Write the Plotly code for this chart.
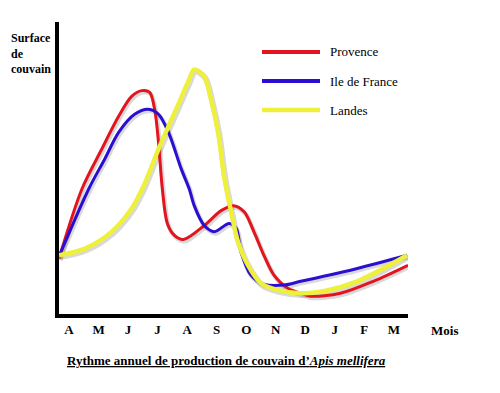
import plotly.graph_objects as go

# Month labels (April -> March)
months = ["A", "M", "J", "J", "A", "S", "O", "N", "D", "J", "F", "M"]
month_pos = list(range(12))

# Provence (red) — x in month units, y in relative brood surface (0-100)
prov_x = [-0.34, 0.44, 1.11, 1.68, 2.12, 2.46, 2.73, 2.90, 3.03, 3.16, 3.33, 3.57, 3.87,
          4.58, 5.15, 5.56, 5.93, 6.26, 6.60, 6.94, 7.41, 7.85, 8.18, 9.19, 10.30, 11.48]
prov_y = [19.0, 42.9, 56.5, 67.7, 74.5, 76.5, 75.9, 70.1, 58.8, 42.9, 31.0, 26.9, 25.5,
          30.3, 35.4, 37.1, 35.0, 28.2, 20.1, 13.3, 8.8, 7.1, 6.1, 7.1, 11.2, 16.7]

# Ile de France (blue)
idf_x = [-0.34, 0.67, 1.21, 1.68, 2.22, 2.69, 3.03, 3.37, 3.80, 4.07, 4.24, 4.58, 4.92,
         5.42, 5.66, 5.82, 6.16, 6.60, 7.27, 7.85, 8.62, 9.76, 11.45]
idf_y = [19.7, 42.9, 53.1, 62.2, 68.4, 70.1, 68.4, 62.2, 49.7, 42.9, 37.1, 30.3, 28.2,
         31.0, 29.3, 21.4, 13.3, 10.2, 9.9, 11.2, 12.9, 15.6, 20.1]

# Landes (yellow)
land_x = [-0.34, 0.54, 1.45, 2.12, 2.53, 3.03, 3.37, 3.70, 4.04, 4.24, 4.58, 4.81, 5.05,
          5.25, 5.49, 5.72, 6.06, 6.50, 7.07, 7.85, 8.62, 9.76, 11.45]
land_y = [20.1, 22.4, 28.2, 36.1, 43.9, 56.5, 64.3, 71.8, 79.6, 83.7, 81.3, 73.5, 62.2,
          47.3, 35.0, 24.8, 16.7, 10.5, 8.2, 7.1, 7.8, 11.2, 20.1]

series = [
    ("Provence", prov_x, prov_y, "#e3141e", 3),
    ("Ile de France", idf_x, idf_y, "#2a0fd2", 3),
    ("Landes", land_x, land_y, "#eef03a", 4.5),
]

# page offset of the figure inside the html page (body margin)
OFF = 8
L, T = 51, 14
R_EDGE, B_EDGE = 400, 306          # figure-relative right / bottom of the plot area
W, H = 500, 393
PW, PH = R_EDGE - L, B_EDGE - T


def px(xp):  # page x -> paper fraction
    return (xp - OFF - L) / PW


def py(yp):  # page y -> paper fraction
    return 1 - (yp - OFF - T) / PH


fig = go.Figure()
# soft shadows
for name, xs, ys, col, w in series:
    fig.add_trace(go.Scatter(x=[x + 0.04 for x in xs], y=[y - 0.6 for y in ys], mode="lines",
                             line=dict(color="rgba(0,0,0,0.15)", width=w + 1.5, shape="spline", smoothing=0.9),
                             hoverinfo="skip", showlegend=False))
for name, xs, ys, col, w in series:
    fig.add_trace(go.Scatter(x=xs, y=ys, mode="lines", name=name,
                             line=dict(color=col, width=w, shape="spline", smoothing=0.9),
                             showlegend=False))

serif = "Liberation Serif"

fig.update_layout(
    width=W, height=H,
    margin=dict(l=L, r=W - R_EDGE, t=T, b=H - B_EDGE),
    paper_bgcolor="white", plot_bgcolor="white",
    xaxis=dict(range=[-0.34, 11.48], tickmode="array", tickvals=month_pos,
               ticktext=["<b>%s</b>" % m for m in months],
               showgrid=False, zeroline=False, showline=True, linecolor="black", linewidth=4,
               ticks="", tickfont=dict(family=serif, size=13, color="black")),
    yaxis=dict(range=[0, 100], showgrid=False, zeroline=False, showline=True,
               linecolor="black", linewidth=4, showticklabels=False, ticks=""),
)

# Axis titles
fig.add_annotation(text="<b>Surface<br>de<br>couvain</b>", xref="paper", yref="paper",
                   x=px(10), y=py(30), xanchor="left", yanchor="top", align="left",
                   borderpad=0, showarrow=False, font=dict(family=serif, size=12, color="black"))
fig.add_annotation(text="<b>Mois</b>", xref="paper", yref="paper",
                   x=px(429), y=py(331), xanchor="left", yanchor="middle",
                   showarrow=False, font=dict(family=serif, size=13, color="black"))

# Legend (drawn manually to match the long legend lines)
leg_y = [52, 81, 110]
for (name, xs, ys, col, w), ly in zip(series, leg_y):
    yp = py(ly)
    fig.add_shape(type="line", xref="paper", yref="paper",
                  x0=px(262), x1=px(320), y0=yp, y1=yp,
                  line=dict(color=col, width=w if w > 3 else 4))
    fig.add_annotation(text=name, xref="paper", yref="paper",
                       x=px(328), y=yp, xanchor="left", yanchor="middle",
                       showarrow=False, font=dict(family=serif, size=13, color="black"))

# Caption
fig.add_annotation(text="<u><b>Rythme annuel de production de couvain d\u2019<i>Apis mellifera</i></b></u>",
                   xref="paper", yref="paper", x=px(226), y=py(360),
                   xanchor="center", yanchor="middle", showarrow=False,
                   font=dict(family=serif, size=13, color="black"))

fig.write_html("out.html")
